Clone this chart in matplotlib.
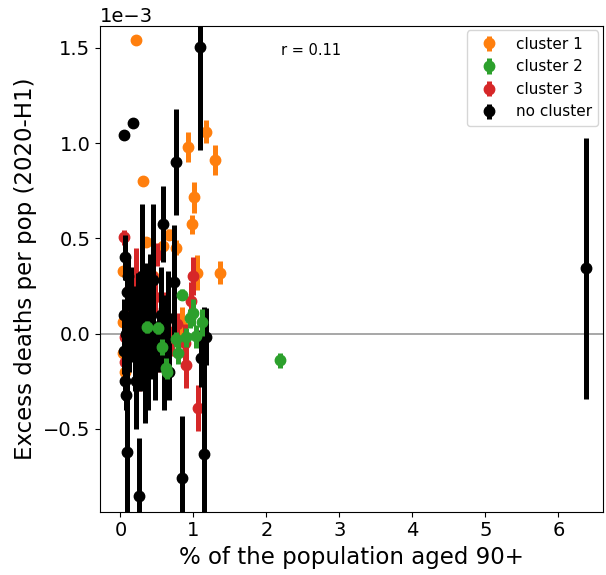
import matplotlib
matplotlib.use("Agg")
import matplotlib.pyplot as plt

# значення y в одиницях 1e-3
c1_x = [0.21, 0.31, 0.92, 1.17, 1.30, 1.01, 0.98, 0.35, 0.67, 0.58, 0.76, 1.05, 1.37,
        0.03, 0.03, 0.04, 0.06, 0.84, 0.20, 0.45]
c1_y = [1.54, 0.80, 0.98, 1.06, 0.91, 0.715, 0.575, 0.48, 0.52, 0.46, 0.45, 0.32, 0.32,
        0.33, 0.06, -0.10, -0.20, 0.04, 0.20, 0.30]
c1_e = [0.02, 0.02, 0.08, 0.06, 0.08, 0.08, 0.05, 0.02, 0.03, 0.03, 0.04, 0.09, 0.06,
        0.02, 0.02, 0.02, 0.02, 0.10, 0.02, 0.03]

c2_x = [2.19, 0.85, 0.99, 1.12, 1.03, 0.95, 0.79, 0.62, 0.57, 0.36, 0.51, 0.90, 0.64, 0.76]
c2_y = [-0.14, 0.205, 0.11, 0.06, -0.015, 0.08, -0.10, -0.18, -0.07, 0.035, 0.03, -0.02, -0.20, -0.03]
c2_e = [0.04, 0.03, 0.07, 0.07, 0.06, 0.05, 0.06, 0.05, 0.04, 0.03, 0.03, 0.05, 0.04, 0.04]

c3_x = [0.045, 0.22, 0.50, 0.40, 0.13, 0.99, 0.97, 0.88, 0.90, 1.06, 0.06, 0.06, 0.70, 0.60,
        0.47, 0.28, 0.33, 0.15, 0.52, 0.10, 0.43, 0.58, 0.25, 0.78]
c3_y = [0.505, 0.28, 0.415, 0.17, 0.24, 0.30, 0.17, -0.05, -0.165, -0.39, -0.02, -0.15, -0.04, 0.13,
        0.19, 0.10, -0.08, 0.03, -0.12, 0.15, 0.30, 0.02, -0.20, 0.05]
c3_e = [0.04, 0.17, 0.06, 0.08, 0.08, 0.10, 0.10, 0.10, 0.12, 0.12, 0.06, 0.05, 0.08, 0.09,
        0.08, 0.10, 0.12, 0.10, 0.08, 0.06, 0.06, 0.09, 0.10, 0.06]

nc_x = [6.38, 1.085, 0.17, 0.045, 0.76, 0.58, 0.29, 0.45, 0.73, 0.06, 0.10, 0.40, 0.65, 1.17,
        1.10, 1.15, 0.84, 0.25, 0.09, 0.05, 0.08, 0.05, 0.12, 0.18, 0.20, 0.28, 0.33, 0.35,
        0.38, 0.44, 0.48, 0.55, 0.60, 0.67, 0.15, 0.24, 0.06, 0.07, 0.22, 0.42, 0.09, 0.53]
nc_y = [0.342, 1.505, 1.105, 1.04, 0.90, 0.575, 0.30, 0.28, 0.27, 0.40, 0.30, 0.27, 0.08, -0.016,
        -0.13, -0.63, -0.76, -0.85, -0.62, 0.10, 0.00, -0.09, -0.05, 0.05, -0.12, -0.05, -0.10, 0.15,
        -0.10, -0.02, -0.15, 0.10, -0.10, -0.20, 0.20, 0.10, -0.25, -0.32, -0.25, 0.05, 0.22, -0.05]
nc_e = [0.685, 0.54, 0.02, 0.02, 0.28, 0.20, 0.38, 0.40, 0.30, 0.12, 0.10, 0.15, 0.25, 0.15,
        0.15, 0.77, 0.33, 0.30, 0.55, 0.08, 0.10, 0.12, 0.15, 0.20, 0.18, 0.25, 0.37, 0.22,
        0.30, 0.22, 0.20, 0.25, 0.30, 0.15, 0.15, 0.22, 0.10, 0.08, 0.25, 0.18, 0.10, 0.15]

r_value = 0.11

groups = [
    ("cluster 1", c1_x, c1_y, c1_e, "tab:orange", 2),
    ("cluster 2", c2_x, c2_y, c2_e, "tab:green", 5),
    ("cluster 3", c3_x, c3_y, c3_e, "tab:red", 3),
    ("no cluster", nc_x, nc_y, nc_e, "black", 4),
]

fig = plt.figure(figsize=(6.06, 5.75), dpi=100)
ax = fig.add_axes([0.165, 0.11, 0.83, 0.845])

ax.axhline(0, color="#a0a0a0", linewidth=1.3, zorder=1)

handles = []
for name, xs, ys, es, col, z in groups:
    h = ax.errorbar(xs, [v * 1e-3 for v in ys], yerr=[v * 1e-3 for v in es],
                    fmt="o", color=col, ecolor=col, elinewidth=3.6, capsize=0,
                    markersize=7.5, label=name, zorder=z)
    handles.append(h)

ax.set_xlim(-0.28, 6.61)
ax.set_ylim(-0.935e-3, 1.615e-3)
ax.set_xticks(range(7))
ax.ticklabel_format(axis="y", style="sci", scilimits=(0, 0))
ax.tick_params(labelsize=14)
ax.yaxis.get_offset_text().set_fontsize(14)

ax.set_xlabel("% of the population aged 90+", fontsize=16.5)
ax.set_ylabel("Excess deaths per pop (2020-H1)", fontsize=16.5)

ax.text(0.36, 0.94, f"r = {r_value}", transform=ax.transAxes, fontsize=10.5)
ax.legend(handles=handles, loc="upper right", fontsize=11, borderaxespad=0.3)

fig.savefig("out.png", dpi=100)
